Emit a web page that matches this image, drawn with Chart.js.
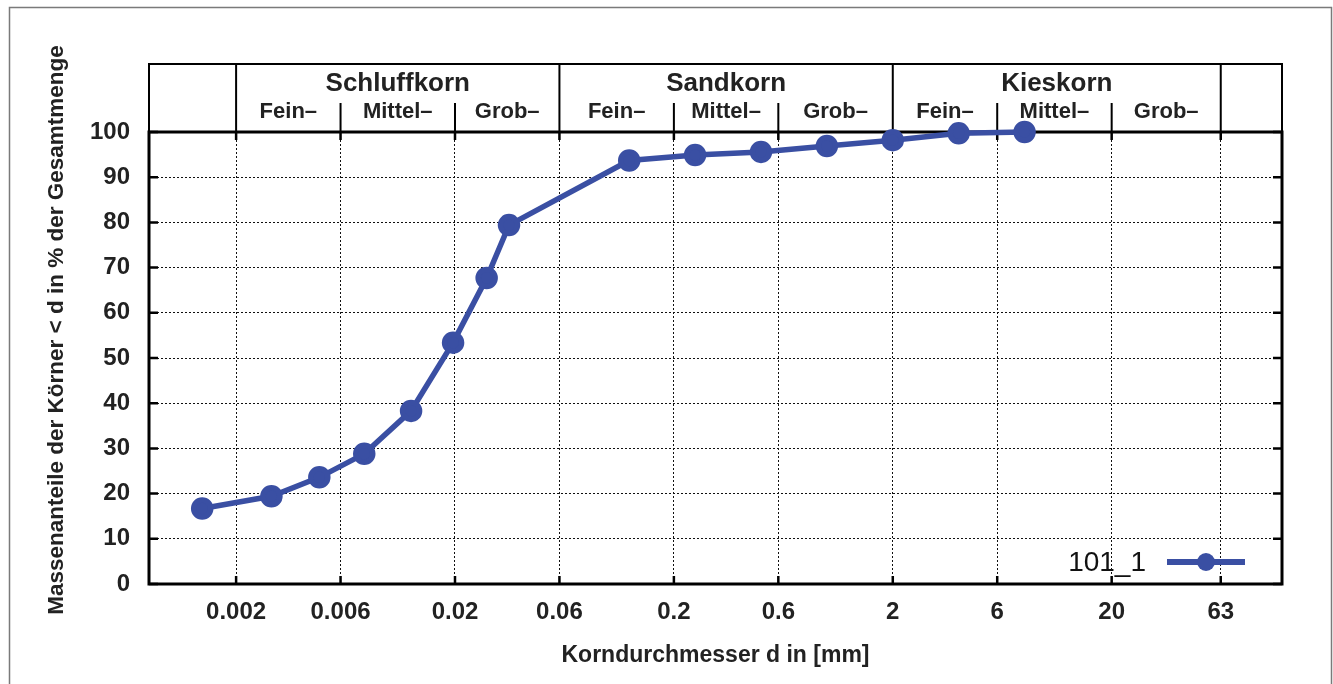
<!DOCTYPE html>
<html>
<head>
<meta charset="utf-8">
<script src="https://cdn.jsdelivr.net/npm/chart.js@4.4.1/dist/chart.umd.min.js"></script>
<style>
  html, body { margin: 0; padding: 0; background: #fff; }
  #wrap { position: relative; width: 1333px; height: 684px; }
</style>
</head>
<body>
<div id="wrap"><canvas id="chart"></canvas></div>
<script>
// Kornverteilung Probe 101_1 (Sieb- und Schlämmanalyse)
var durchmesser = [0.0014, 0.0029, 0.0048, 0.0077, 0.0126, 0.0196, 0.0279, 0.0353, 0.125, 0.25, 0.5, 1, 2, 4, 8];
var anteile = [16.7, 19.4, 23.6, 28.8, 38.3, 53.4, 67.7, 79.4, 93.7, 94.9, 95.6, 96.9, 98.2, 99.7, 100];

var xTicks = [0.002, 0.006, 0.02, 0.06, 0.2, 0.6, 2, 6, 20, 63];
var yTicks = [0, 10, 20, 30, 40, 50, 60, 70, 80, 90, 100];

// Bodenarten im Kopf des Diagramms
var gruppen = ["Schluffkorn", "Sandkorn", "Kieskorn"];
var gruppenGrenzen = [0.002, 0.06, 2, 63];
var untergruppen = ["Fein\u2013", "Mittel\u2013", "Grob\u2013"];
var untergruppenGrenzen = [0.006, 0.02, 0.2, 0.6, 6, 20];

var serienName = "101_1";
var blau = "#3a4fa3";
var schrift = "'Liberation Sans', Arial, Helvetica, sans-serif";

var kopfPlugin = {
  id: 'kopf',
  beforeDraw: function(chart) {
    var ctx = chart.ctx;
    ctx.save();
    ctx.fillStyle = '#fff';
    ctx.fillRect(0, 0, chart.width, chart.height);
    ctx.strokeStyle = '#7a7a7a';
    ctx.lineWidth = 1.5;
    ctx.strokeRect(9.5, 7.5, chart.width - 11, chart.height + 10);
    ctx.restore();
  },
  beforeDatasetsDraw: function(chart) {
    var ctx = chart.ctx, a = chart.chartArea;
    var xs = chart.scales.x, ys = chart.scales.y;
    ctx.save();
    ctx.strokeStyle = '#000';
    // Rahmen
    ctx.lineWidth = 3;
    ctx.strokeRect(a.left, a.top, a.right - a.left, a.bottom - a.top);
    // Teilstriche nach innen
    ctx.lineWidth = 2.5;
    ctx.beginPath();
    xTicks.forEach(function(v) {
      var px = xs.getPixelForValue(v);
      ctx.moveTo(px, a.bottom); ctx.lineTo(px, a.bottom - 8);
      ctx.moveTo(px, a.top); ctx.lineTo(px, a.top + 8);
    });
    yTicks.forEach(function(v) {
      var py = ys.getPixelForValue(v);
      ctx.moveTo(a.left, py); ctx.lineTo(a.left + 9, py);
      ctx.moveTo(a.right, py); ctx.lineTo(a.right - 9, py);
    });
    ctx.stroke();

    // Kopfkasten
    var top = a.top - 68;
    ctx.lineWidth = 2;
    ctx.strokeRect(a.left, top, a.right - a.left, a.top - top);
    ctx.beginPath();
    gruppenGrenzen.forEach(function(v) {
      var px = xs.getPixelForValue(v);
      ctx.moveTo(px, top); ctx.lineTo(px, a.top);
    });
    untergruppenGrenzen.forEach(function(v) {
      var px = xs.getPixelForValue(v);
      ctx.moveTo(px, a.top - 29); ctx.lineTo(px, a.top);
    });
    ctx.stroke();

    ctx.fillStyle = '#222';
    ctx.textAlign = 'center';
    ctx.textBaseline = 'middle';
    for (var g = 0; g < gruppen.length; g++) {
      var x1 = xs.getPixelForValue(gruppenGrenzen[g]);
      var x2 = xs.getPixelForValue(gruppenGrenzen[g + 1]);
      ctx.font = 'bold 26px ' + schrift;
      ctx.fillText(gruppen[g], (x1 + x2) / 2, top + 20);
      var grenzen = [gruppenGrenzen[g], untergruppenGrenzen[2 * g], untergruppenGrenzen[2 * g + 1], gruppenGrenzen[g + 1]];
      ctx.font = 'bold 22px ' + schrift;
      for (var u = 0; u < 3; u++) {
        var u1 = xs.getPixelForValue(grenzen[u]);
        var u2 = xs.getPixelForValue(grenzen[u + 1]);
        ctx.fillText(untergruppen[u], (u1 + u2) / 2, top + 48);
      }
    }

    // y-Achsentitel
    ctx.translate(57, (top + a.bottom) / 2 + 6);
    ctx.rotate(-Math.PI / 2);
    ctx.font = 'bold 22.5px ' + schrift;
    ctx.fillText('Massenanteile der K\u00f6rner < d in % der Gesamtmenge', 0, 0);
    ctx.restore();
  },
  afterDraw: function(chart) {
    var ctx = chart.ctx, a = chart.chartArea;
    var ly = a.bottom - 22;
    ctx.save();
    ctx.fillStyle = '#111';
    ctx.font = '28px ' + schrift;
    ctx.textAlign = 'right';
    ctx.textBaseline = 'middle';
    ctx.fillText(serienName, a.right - 136, ly + 1);
    ctx.strokeStyle = blau;
    ctx.lineWidth = 6;
    ctx.beginPath();
    ctx.moveTo(a.right - 115, ly); ctx.lineTo(a.right - 37, ly);
    ctx.stroke();
    ctx.fillStyle = blau;
    ctx.beginPath();
    ctx.arc(a.right - 76, ly, 9, 0, Math.PI * 2);
    ctx.fill();
    ctx.restore();
  }
};

var gitter = { color: '#111', lineWidth: 1, drawTicks: false };
var rand = { display: false, dash: [2, 2] };

new Chart(document.getElementById('chart'), {
  type: 'line',
  data: {
    datasets: [{
      label: serienName,
      data: durchmesser.map(function(d, i) { return { x: d, y: anteile[i] }; }),
      borderColor: blau,
      backgroundColor: blau,
      borderWidth: 5.5,
      pointRadius: 8.5,
      pointHoverRadius: 8.5,
      tension: 0,
      clip: false
    }]
  },
  options: {
    responsive: true,
    maintainAspectRatio: false,
    animation: false,
    layout: { padding: { left: 39, right: 51, top: 132, bottom: 0 } },
    plugins: {
      legend: { display: false },
      tooltip: { enabled: false }
    },
    scales: {
      x: {
        type: 'logarithmic',
        min: 0.0008,
        max: 120,
        afterBuildTicks: function(s) { s.ticks = xTicks.map(function(v) { return { value: v }; }); },
        afterFit: function(s) { s.height = 100; },
        ticks: {
          autoSkip: false,
          maxRotation: 0,
          padding: 14,
          color: '#222',
          font: { family: schrift, size: 24, weight: 'bold' },
          callback: function(v) { return String(v); }
        },
        grid: gitter,
        border: rand,
        title: {
          display: true,
          text: 'Korndurchmesser d in [mm]',
          color: '#222',
          font: { family: schrift, size: 23, weight: 'bold' },
          padding: { top: 0, bottom: 15 }
        }
      },
      y: {
        min: 0,
        max: 100,
        afterBuildTicks: function(s) { s.ticks = yTicks.map(function(v) { return { value: v }; }); },
        afterFit: function(s) { s.width = 110; },
        ticks: {
          padding: 19,
          color: '#222',
          font: { family: schrift, size: 24, weight: 'bold' }
        },
        grid: gitter,
        border: rand
      }
    }
  },
  plugins: [kopfPlugin]
});
</script>
</body>
</html>
